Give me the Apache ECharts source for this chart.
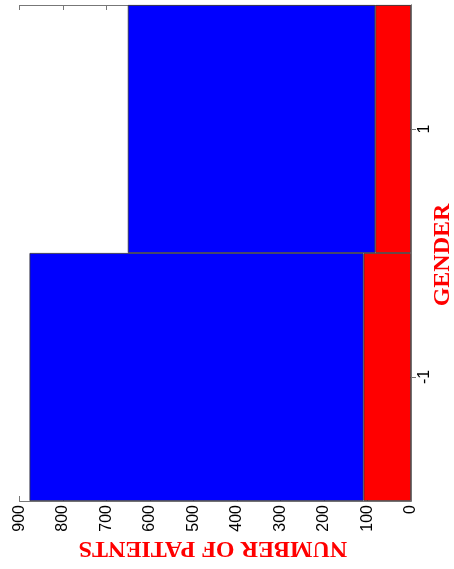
<!DOCTYPE html>
<html>
<head>
<meta charset="utf-8">
<script src="https://cdn.jsdelivr.net/npm/echarts@6/dist/echarts.min.js"></script>
<style>
html,body{margin:0;padding:0;background:#fff;}
#chart{width:454px;height:569px;}
</style>
</head>
<body>
<div id="chart"></div>
<script>
var categories = ['-1', '1'];
var redValues = [109, 82];
var blueValues = [768, 569];
var valueTicks = [0, 100, 200, 300, 400, 500, 600, 700, 800, 900];
var xTitle = 'GENDER';
var yTitle = 'NUMBER OF PATIENTS';

var chart = echarts.init(document.getElementById('chart'), null, {renderer: 'canvas'});
var frame = {show: true, lineStyle: {color: '#777', width: 1}};
var option = {
  animation: false,
  backgroundColor: '#fff',
  grid: {left: 19.5, right: 43, top: 5, bottom: 68, containLabel: false},
  xAxis: [{
    type: 'value', inverse: true, position: 'bottom',
    min: valueTicks[0], max: valueTicks[valueTicks.length - 1], interval: 100,
    axisLine: frame,
    axisTick: {show: true, inside: true, length: 5, lineStyle: {color: '#777'}},
    axisLabel: {rotate: 90, margin: 4, fontSize: 16, color: '#000', fontFamily: 'Liberation Sans'},
    splitLine: {show: false}
  }, {
    type: 'value', inverse: true, position: 'top',
    min: valueTicks[0], max: valueTicks[valueTicks.length - 1], interval: 100,
    axisLine: frame,
    axisTick: {show: true, inside: true, length: 5, lineStyle: {color: '#777'}},
    axisLabel: {show: false},
    splitLine: {show: false}
  }],
  yAxis: [{
    type: 'category', position: 'right', data: categories,
    axisLine: frame,
    axisTick: {show: true, inside: true, alignWithLabel: true, length: 5, lineStyle: {color: '#777'}},
    axisLabel: {rotate: 90, margin: 6, fontSize: 16, color: '#000', fontFamily: 'Liberation Sans'},
    splitLine: {show: false}
  }, {
    type: 'category', position: 'left', data: categories,
    axisLine: frame,
    axisTick: {show: true, inside: true, alignWithLabel: true, length: 5, lineStyle: {color: '#777'}},
    axisLabel: {show: false},
    splitLine: {show: false}
  }],
  series: [{
    type: 'bar', stack: 'total', data: redValues, barCategoryGap: '0%',
    itemStyle: {color: '#ff0000', borderColor: '#333', borderWidth: 0.8}
  }, {
    type: 'bar', stack: 'total', data: blueValues, barCategoryGap: '0%',
    itemStyle: {color: '#0000ff', borderColor: '#333', borderWidth: 0.8}
  }],
  graphic: [{
    type: 'text', x: 213, y: 548, rotation: Math.PI,
    style: {text: yTitle, fill: '#ff0000', font: 'bold 24px "Liberation Serif"', textAlign: 'center', textVerticalAlign: 'middle'}
  }, {
    type: 'text', x: 443, y: 255, rotation: Math.PI / 2,
    style: {text: xTitle, fill: '#ff0000', font: 'bold 24px "Liberation Serif"', textAlign: 'center', textVerticalAlign: 'middle'}
  }]
};
chart.setOption(option);
</script>
</body>
</html>
